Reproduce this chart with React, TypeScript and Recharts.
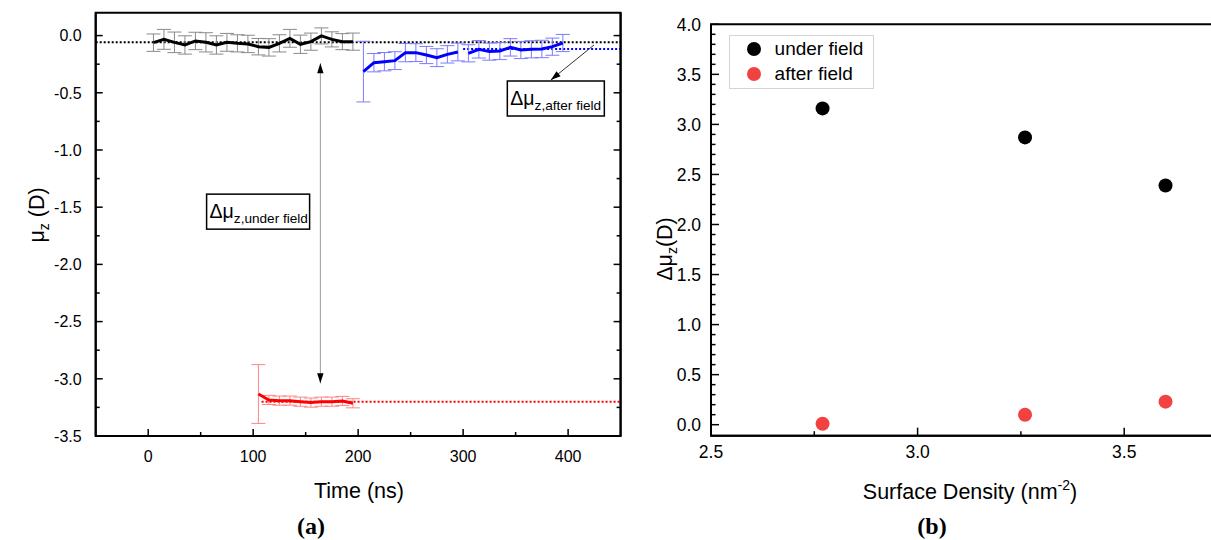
import React from 'react';
import {
  LineChart, Line, XAxis, YAxis, ErrorBar, ReferenceLine, ReferenceDot, ReferenceArea,
  ScatterChart, Scatter, Legend,
} from 'recharts';

const FONT = '"Liberation Sans", Arial, Helvetica, sans-serif';
const SERIF = '"Liberation Serif", "Times New Roman", serif';

// ---------- Panel (a): dipole moment vs time ----------
// no-field run (black)
const noFieldTime = [5, 15, 25, 35, 45, 55, 65, 75, 85, 95, 105, 115, 125, 135, 145, 155, 165, 175, 185, 195];
const noFieldMu = [-0.062, -0.033, -0.059, -0.082, -0.047, -0.059, -0.082, -0.059, -0.068, -0.073, -0.097, -0.103, -0.068, -0.024, -0.076, -0.053, -0.003, -0.033, -0.053, -0.053];
const noFieldErr = [0.076, 0.087, 0.09, 0.08, 0.076, 0.084, 0.08, 0.078, 0.075, 0.076, 0.072, 0.076, 0.075, 0.078, 0.08, 0.075, 0.07, 0.066, 0.07, 0.075];

// under field (red)
const underTime = [105, 115, 125, 135, 145, 155, 165, 175, 185, 195];
const underMu = [-3.133, -3.185, -3.191, -3.191, -3.2, -3.208, -3.2, -3.2, -3.194, -3.214];
const underErr = [0.257, 0.04, 0.04, 0.04, 0.04, 0.04, 0.04, 0.04, 0.04, 0.04];

// after field (blue), two segments
const afterTimeA = [205, 215, 225, 235, 245, 255, 265, 275, 285, 295];
const afterMuA = [-0.315, -0.237, -0.228, -0.219, -0.149, -0.149, -0.17, -0.193, -0.164, -0.143];
const afterErrA = [0.265, 0.08, 0.08, 0.078, 0.08, 0.078, 0.075, 0.078, 0.076, 0.078];
const afterTimeB = [305, 315, 325, 335, 345, 355, 365, 375, 385, 395];
const afterMuB = [-0.155, -0.12, -0.14, -0.135, -0.103, -0.126, -0.12, -0.117, -0.097, -0.065];
const afterErrB = [0.075, 0.076, 0.075, 0.075, 0.076, 0.075, 0.075, 0.076, 0.075, 0.075];

// mean levels (dotted lines)
const meanNoField = -0.059;
const meanAfter = -0.117;
const meanUnder = -3.2;

// annotation anchors (data coordinates)
const deltaUnderArrow = { t: 164, top: -0.242, bottom: -3.04 };
const deltaAfterArrow = { t1: 424.7, y1: -0.082, t2: 383.5, y2: -0.388 };
const deltaUnderBox = { t: 104.7, y: -1.539 };
const deltaAfterBox = { t: 388.3, y: -0.55 };

const leftXDomain = [-50, 450];
const leftYDomain = [-3.5, 0.2];
const leftXTicks = [0, 50, 100, 150, 200, 250, 300, 350, 400];
const leftXLabels = [0, 100, 200, 300, 400];
const leftYTicks = [-3.5, -3.25, -3, -2.75, -2.5, -2.25, -2, -1.75, -1.5, -1.25, -1, -0.75, -0.5, -0.25, 0];
const leftYLabels = [-3.5, -3, -2.5, -2, -1.5, -1, -0.5, 0];

// ---------- Panel (b): Δμz vs surface density ----------
const densities = [2.77, 3.26, 3.6];
const deltaUnderField = [3.16, 2.87, 2.39];
const deltaAfterField = [0.01, 0.1, 0.23];
const seriesNames = ['under field', 'after field'];
const seriesColors = ['#000000', '#f24141'];

const rightXDomain = [2.5, 3.75];
const rightYDomain = [-0.11, 4];
const rightXTicks = [2.5, 2.75, 3, 3.25, 3.5, 3.75];
const rightXLabels = [2.5, 3, 3.5];
const rightYTicks = Array.from({ length: 41 }, (_, i) => i / 10);
const rightYLabels = [0, 0.5, 1, 1.5, 2, 2.5, 3, 3.5, 4];

const zip = (t: number[], v: number[], e: number[]) => t.map((x, i) => ({ t: x, v: v[i], e: e[i] }));
const noFieldData = zip(noFieldTime, noFieldMu, noFieldErr);
const underData = zip(underTime, underMu, underErr);
const afterDataA = zip(afterTimeA, afterMuA, afterErrA);
const afterDataB = zip(afterTimeB, afterMuB, afterErrB);
const underFieldPts = densities.map((x, i) => ({ x, y: deltaUnderField[i] }));
const afterFieldPts = densities.map((x, i) => ({ x, y: deltaAfterField[i] }));

type Side = 'left' | 'right' | 'top' | 'bottom';
const fmtInt = (v: number) => String(v);
const fmt1 = (v: number) => v.toFixed(1);

const makeTick = (side: Side, majors: number[], showLabels: boolean, fontSize: number, offset: number,
  majorLen: number, minorLen: number, fmt: (v: number) => string) =>
  (props: any) => {
    const { x, y, payload } = props;
    const v = payload.value as number;
    const isMajor = majors.some((m) => Math.abs(m - v) < 1e-6);
    const len = isMajor ? majorLen : minorLen;
    let line: any = null;
    let label: any = null;
    if (side === 'bottom') {
      line = <line x1={x} x2={x} y1={y} y2={y - len} stroke="#000" strokeWidth={1.5} />;
      if (showLabels && isMajor) label = <text x={x} y={y + offset} textAnchor="middle" fontSize={fontSize} fontFamily={FONT} fill="#000">{fmt(v)}</text>;
    } else if (side === 'top') {
      line = <line x1={x} x2={x} y1={y} y2={y + len} stroke="#000" strokeWidth={1.5} />;
    } else if (side === 'left') {
      line = <line x1={x} x2={x + len} y1={y} y2={y} stroke="#000" strokeWidth={1.5} />;
      if (showLabels && isMajor) label = <text x={x - offset} y={y} dy="0.36em" textAnchor="end" fontSize={fontSize} fontFamily={FONT} fill="#000">{fmt(v)}</text>;
    } else {
      line = <line x1={x} x2={x - len} y1={y} y2={y} stroke="#000" strokeWidth={1.5} />;
    }
    return <g>{line}{label}</g>;
  };

const arrowShape = (headColor: string, lineColor: string, both: boolean) => (props: any) => {
  const { x1, y1, x2, y2 } = props;
  const dx = x2 - x1;
  const dy = y2 - y1;
  const L = Math.hypot(dx, dy) || 1;
  const ux = dx / L;
  const uy = dy / L;
  const head = (tx: number, ty: number, dirx: number, diry: number) => {
    const bx = tx - dirx * 10;
    const by = ty - diry * 10;
    const px = -diry * 3.2;
    const py = dirx * 3.2;
    return <polygon points={`${tx},${ty} ${bx + px},${by + py} ${bx - px},${by - py}`} fill={headColor} />;
  };
  return (
    <g>
      <line x1={x1} y1={y1} x2={x2} y2={y2} stroke={lineColor} strokeWidth={1} />
      {head(x2, y2, ux, uy)}
      {both ? head(x1, y1, -ux, -uy) : null}
    </g>
  );
};

const boxShape = (w: number, h: number, sub: string) => (props: any) => {
  const { cx, cy } = props;
  const left = cx - w / 2;
  const top = cy - h / 2;
  return (
    <g>
      <rect x={left} y={top} width={w} height={h} fill="#fff" stroke="#000" strokeWidth={1.5} />
      <text x={left + 3} y={top + 24} fontSize={19.5} fontFamily={FONT} fill="#000">
        Δμ<tspan fontSize={13.6} dy={5}>{sub}</tspan>
      </text>
    </g>
  );
};

const circleShape = (color: string) => (props: any) => (
  <circle cx={props.cx} cy={props.cy} r={7} fill={color} />
);

const LegendBox = () => (
  <div style={{ width: 145, height: 54, border: '1px solid #d4d4d4', boxSizing: 'border-box', background: '#fff', position: 'relative', fontFamily: FONT }}>
    {seriesNames.map((n, i) => (
      <div key={n} style={{ position: 'absolute', left: 0, top: 0 + i * 25, height: 25, display: 'flex', alignItems: 'center' }}>
        <span style={{ display: 'inline-block', width: 14, height: 14, borderRadius: 7, background: seriesColors[i], marginLeft: 17, marginRight: 14 }} />
        <span style={{ fontSize: 19, color: '#000', lineHeight: '25px' }}>{n}</span>
      </div>
    ))}
  </div>
);

const axisLineStyle = { stroke: '#000', strokeWidth: 2 };

export default function App() {
  return (
    <div style={{ position: 'fixed', left: 0, top: 0, width: 1211, height: 540, overflow: 'hidden', background: '#fff' }}>
      <div style={{ position: 'absolute', left: 0, top: 0 }}>
        <LineChart width={650} height={540} margin={{ top: 12.7, right: 28.4, bottom: 34, left: 5.7 }}>
          <XAxis type="number" dataKey="t" domain={leftXDomain} ticks={leftXTicks} interval={0} allowDataOverflow
            tickSize={0} tickMargin={0} height={70} axisLine={axisLineStyle}
            tick={makeTick('bottom', leftXLabels, true, 16, 25.5, 7, 4, fmtInt)} />
          <XAxis xAxisId="top" orientation="top" type="number" domain={leftXDomain} ticks={leftXTicks} interval={0} allowDataOverflow
            tickSize={0} tickMargin={0} height={0} axisLine={axisLineStyle}
            tick={makeTick('top', leftXLabels, false, 16, 0, 7, 4, fmtInt)} />
          <YAxis type="number" domain={leftYDomain} ticks={leftYTicks} interval={0} allowDataOverflow
            tickSize={0} tickMargin={0} width={90} axisLine={axisLineStyle}
            tick={makeTick('left', leftYLabels, true, 16, 14, 7, 4, fmt1)} />
          <YAxis yAxisId="right" orientation="right" type="number" domain={leftYDomain} ticks={leftYTicks} interval={0} allowDataOverflow
            tickSize={0} tickMargin={0} width={1} axisLine={axisLineStyle}
            tick={makeTick('right', leftYLabels, false, 16, 0, 7, 4, fmt1)} />

          <ReferenceArea x1={leftXDomain[0]} x2={leftXDomain[1]} y1={leftYDomain[0]} y2={leftYDomain[1]}
            fill="none" fillOpacity={0} stroke="#000" strokeWidth={2} />

          <ReferenceLine segment={[{ x: -50, y: meanNoField }, { x: 450, y: meanNoField }]} stroke="#000" strokeWidth={2} strokeDasharray="2 2" />
          <ReferenceLine segment={[{ x: 300, y: meanAfter }, { x: 450, y: meanAfter }]} stroke="#0000ff" strokeWidth={2} strokeDasharray="2 2" />
          <ReferenceLine segment={[{ x: 108, y: meanUnder }, { x: 450, y: meanUnder }]} stroke="#ff0000" strokeWidth={2} strokeDasharray="2 2" />

          <Line data={noFieldData} dataKey="v" stroke="#000" strokeWidth={3} dot={false} isAnimationActive={false}>
            <ErrorBar dataKey="e" direction="y" width={7} stroke="#8a8a8a" strokeWidth={1} />
          </Line>
          <Line data={underData} dataKey="v" stroke="#ff0000" strokeWidth={3} dot={false} isAnimationActive={false}>
            <ErrorBar dataKey="e" direction="y" width={7} stroke="#ff8585" strokeWidth={1} />
          </Line>
          <Line data={afterDataA} dataKey="v" stroke="#0000ff" strokeWidth={3} dot={false} isAnimationActive={false}>
            <ErrorBar dataKey="e" direction="y" width={7} stroke="#7b7bff" strokeWidth={1} />
          </Line>
          <Line data={afterDataB} dataKey="v" stroke="#0000ff" strokeWidth={3} dot={false} isAnimationActive={false}>
            <ErrorBar dataKey="e" direction="y" width={7} stroke="#7b7bff" strokeWidth={1} />
          </Line>

          <ReferenceLine segment={[{ x: deltaUnderArrow.t, y: deltaUnderArrow.top }, { x: deltaUnderArrow.t, y: deltaUnderArrow.bottom }]}
            shape={arrowShape('#000', '#9a9a9a', true)} />
          <ReferenceLine segment={[{ x: deltaAfterArrow.t1, y: deltaAfterArrow.y1 }, { x: deltaAfterArrow.t2, y: deltaAfterArrow.y2 }]}
            shape={arrowShape('#000', '#333', false)} />
          <ReferenceDot x={deltaUnderBox.t} y={deltaUnderBox.y} shape={boxShape(103, 35, 'z,under field')} />
          <ReferenceDot x={deltaAfterBox.t} y={deltaAfterBox.y} shape={boxShape(97, 35, 'z,after field')} />
        </LineChart>
      </div>

      <div style={{ position: 'absolute', left: 650, top: 0 }}>
        <ScatterChart width={600} height={540} margin={{ top: 24.3, right: 21.5, bottom: 34.3, left: 6 }}>
          <XAxis type="number" dataKey="x" domain={rightXDomain} ticks={rightXTicks} interval={0} allowDataOverflow
            tickSize={0} tickMargin={0} height={70} axisLine={axisLineStyle}
            tick={makeTick('bottom', rightXLabels, true, 17.5, 22, 8, 4.5, fmt1)} />
          <XAxis xAxisId="top" orientation="top" type="number" domain={rightXDomain} ticks={rightXTicks} interval={0} allowDataOverflow
            tickSize={0} tickMargin={0} height={0} axisLine={axisLineStyle}
            tick={makeTick('top', rightXLabels, false, 17.5, 0, 6, 5, fmt1)} />
          <YAxis type="number" dataKey="y" domain={rightYDomain} ticks={rightYTicks} interval={0} allowDataOverflow
            tickSize={0} tickMargin={0} width={55} axisLine={axisLineStyle}
            tick={makeTick('left', rightYLabels, true, 17.5, 10, 8, 4.5, fmt1)} />
          <YAxis yAxisId="right" orientation="right" type="number" domain={rightYDomain} ticks={rightYTicks} interval={0} allowDataOverflow
            tickSize={0} tickMargin={0} width={1} axisLine={axisLineStyle}
            tick={makeTick('right', rightYLabels, false, 17.5, 0, 8, 4.5, fmt1)} />
          <ReferenceArea x1={rightXDomain[0]} x2={rightXDomain[1]} y1={rightYDomain[0]} y2={rightYDomain[1]}
            fill="none" fillOpacity={0} stroke="#000" strokeWidth={2} />
          <Scatter name={seriesNames[0]} data={underFieldPts} fill={seriesColors[0]} shape={circleShape(seriesColors[0])} isAnimationActive={false} />
          <Scatter name={seriesNames[1]} data={afterFieldPts} fill={seriesColors[1]} shape={circleShape(seriesColors[1])} isAnimationActive={false} />
          <Legend layout="vertical" align="center" verticalAlign="middle" content={() => <LegendBox />}
            wrapperStyle={{ position: 'absolute', left: 78.6, top: 35, width: 145, height: 54 }} />
        </ScatterChart>
      </div>

      <svg width={1211} height={540} style={{ position: 'absolute', left: 0, top: 0, pointerEvents: 'none' }}>
        <text x={359} y={498} textAnchor="middle" fontSize={21.5} fontFamily={FONT} fill="#000">Time (ns)</text>
        <text transform="translate(44,215) rotate(-90)" textAnchor="middle" fontSize={21.5} fontFamily={FONT} fill="#000">
          μ<tspan fontSize={14} dy={5}>z</tspan><tspan dy={-5}> (D)</tspan>
        </text>
        <text x={970} y={499} textAnchor="middle" fontSize={21.5} fontFamily={FONT} fill="#000">
          Surface Density (nm<tspan fontSize={14} dy={-9}>-2</tspan><tspan dy={9}>)</tspan>
        </text>
        <text transform="translate(672,249) rotate(-90)" textAnchor="middle" fontSize={21.5} fontFamily={FONT} fill="#000">
          Δμ<tspan fontSize={14} dy={5}>z</tspan><tspan dy={-5}>(D)</tspan>
        </text>
        <text x={311} y={534} textAnchor="middle" fontSize={24} fontWeight="bold" fontFamily={SERIF} fill="#000">(a)</text>
        <text x={932} y={534} textAnchor="middle" fontSize={24} fontWeight="bold" fontFamily={SERIF} fill="#000">(b)</text>
      </svg>
    </div>
  );
}
